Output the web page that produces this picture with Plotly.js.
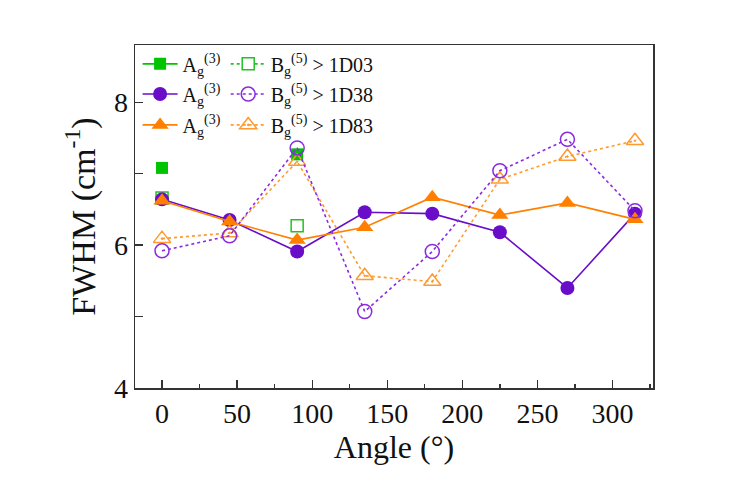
<!DOCTYPE html>
<html>
<head>
<meta charset="utf-8">
<script src="https://cdn.plot.ly/plotly-3.0.1.min.js"></script>
<style>
  html, body { margin: 0; padding: 0; background: #ffffff; }
  #chart { width: 754px; height: 480px; }
</style>
</head>
<body>
<div id="chart"></div>
<script>
const angles = [0, 45, 90, 135, 180, 225, 270, 315];
const greenAngles = [0, 45, 90];

const agD03 = [7.08, null, 7.27];
const bgD03 = [6.66, null, 6.27];
const agD38 = [6.64, 6.35, 5.91, 6.46, 6.44, 6.18, 5.40, 6.44];
const bgD38 = [5.92, 6.13, 7.36, 5.07, 5.91, 7.04, 7.48, 6.48];
const agD83 = [6.62, 6.33, 6.07, 6.25, 6.67, 6.42, 6.59, 6.36];
const bgD83 = [6.09, 6.17, 7.17, 5.57, 5.49, 6.92, 7.24, 7.46];

const agLabel = "A<sub>g</sub><sup>(3)</sup>";
const bgLabel = (sample) => `B<sub>g</sub><sup>(5)</sup> > ${sample}`;

function solidTrace(x, y, color, symbol, size, legend) {
  return {
    x, y,
    type: "scatter",
    mode: "lines+markers",
    name: agLabel,
    legend,
    connectgaps: false,
    line: { color, width: 1.6 },
    marker: { symbol, size, color },
  };
}

function dottedTrace(x, y, sample, color, symbol, size, legend, fill) {
  return {
    x, y,
    type: "scatter",
    mode: "lines+markers",
    name: bgLabel(sample),
    legend,
    connectgaps: false,
    line: { color, width: 1.6, dash: "dot" },
    marker: { symbol, size, color: fill || color, line: { color, width: 1.5 } },
  };
}

const traces = [
  solidTrace(greenAngles, agD03, "#00c400", "square", 12, "legend"),
  dottedTrace(greenAngles, bgD03, "1D03", "#22c222", "square", 12, "legend", "#ffffff"),
  solidTrace(angles, agD38, "#6a0dc8", "circle", 14, "legend2"),
  solidTrace(angles, agD83, "#ff8000", "triangle-up", 15, "legend3"),
  dottedTrace(angles, bgD83, "1D83", "#ff9a30", "triangle-up-open-dot", 15, "legend3"),
  dottedTrace(angles, bgD38, "1D38", "#8a2be2", "circle-open", 14, "legend2"),
];

function legendRow(y) {
  return {
    x: 0.005,
    y,
    xanchor: "left",
    yanchor: "middle",
    orientation: "h",
    bgcolor: "rgba(0,0,0,0)",
    font: { family: "Liberation Serif, serif", size: 20, color: "#111111" },
    itemwidth: 35,
    traceorder: "normal",
  };
}

const axisBase = {
  showgrid: false,
  zeroline: false,
  showline: true,
  mirror: true,
  linecolor: "#333333",
  linewidth: 1.5,
  ticks: "inside",
  ticklen: 8,
  tickwidth: 1.3,
  tickcolor: "#333333",
  tickfont: { family: "Liberation Serif, serif", size: 28, color: "#111111" },
};

const layout = {
  width: 754,
  height: 480,
  margin: { l: 135, r: 101, t: 45, b: 92 },
  paper_bgcolor: "#ffffff",
  plot_bgcolor: "#ffffff",
  showlegend: true,
  legend: legendRow(0.945),
  legend2: legendRow(0.857),
  legend3: legendRow(0.767),
  xaxis: {
    ...axisBase,
    range: [-18, 327],
    dtick: 50,
    tick0: 0,
    minor: { dtick: 25, ticks: "inside", ticklen: 4, tickcolor: "#333333" },
    title: {
      text: "Angle (°)",
      font: { family: "Liberation Serif, serif", size: 32, color: "#111111" },
      standoff: 0,
    },
  },
  yaxis: {
    ...axisBase,
    range: [4, 8.8],
    dtick: 2,
    tick0: 4,
    minor: { dtick: 1, ticks: "inside", ticklen: 8, tickcolor: "#333333" },
    title: {
      text: "FWHM (cm<sup>-1</sup>)",
      font: { family: "Liberation Serif, serif", size: 34, color: "#111111" },
      standoff: 8,
    },
  },
};

Plotly.newPlot("chart", traces, layout, { displayModeBar: false, staticPlot: true });
</script>
</body>
</html>
